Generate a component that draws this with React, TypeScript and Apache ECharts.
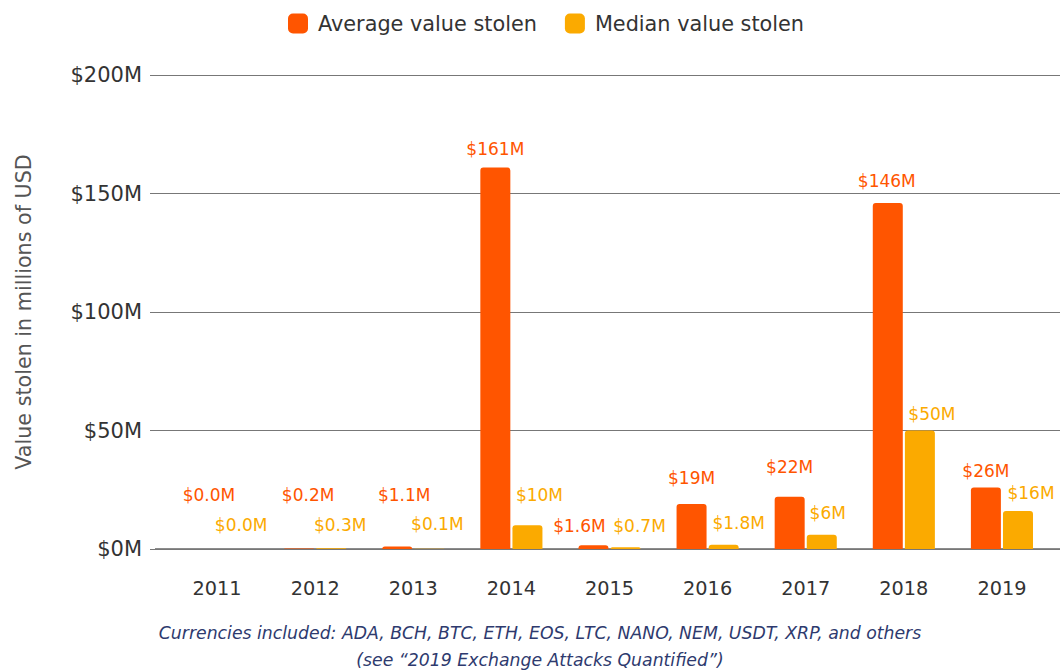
import React, { useEffect, useRef } from "react";
import * as echarts from "echarts";

const years = ["2011", "2012", "2013", "2014", "2015", "2016", "2017", "2018", "2019"];
const averageStolen = [0.0, 0.2, 1.1, 161, 1.6, 19, 22, 146, 26];
const medianStolen = [0.0, 0.3, 0.1, 10, 0.7, 1.8, 6, 50, 16];
const yTicks = [0, 50, 100, 150, 200];

// label nudges (layout only), in pixels [dx, dy]
const avgLabelNudge = [[8, -41], [9, -40], [7, -38], [0, -5], [-14, -6], [0, -12], [0, -16], [-1, -8], [0, -3]];
const medLabelNudge = [[8, -11], [9, -10], [8, -11], [12, -17], [14, -8], [15, -8], [6, -8], [12, -3], [13, -5]];

const ORANGE = "#ff5500";
const AMBER = "#fbaa00";
const FONT = "DejaVu Sans";

const fmt = (v: number) => (v < 2 ? `$${v.toFixed(1)}M` : `$${Math.round(v)}M`);

export default function App() {
  const ref = useRef<HTMLDivElement>(null);
  useEffect(() => {
    if (!ref.current) return;
    const chart = echarts.init(ref.current, null, { renderer: "svg" });
    const labelBase = {
      show: true,
      position: "top" as const,
      distance: 5,
      fontFamily: FONT,
      fontSize: 17,
      formatter: (p: any) => fmt(p.value),
    };
    const footStyle = {
      fontFamily: FONT,
      fontStyle: "italic",
      fontSize: 17.3,
      fill: "#2e3a6e",
      textAlign: "center",
      textVerticalAlign: "middle",
    };
    chart.setOption({
      animation: false,
      textStyle: { fontFamily: FONT },
      legend: {
        top: 8,
        left: 283,
        itemWidth: 20,
        itemHeight: 20,
        itemGap: 28,
        icon: "roundRect",
        textStyle: { fontSize: 20.8, color: "#333", fontFamily: FONT, padding: [0, 0, 0, 5] },
        data: ["Average value stolen", "Median value stolen"],
      },
      grid: [
        { left: 155, right: 0, top: 75, bottom: 121, containLabel: false },
        { left: 168, right: 9, top: 75, bottom: 121, containLabel: false },
      ],
      xAxis: [
        { type: "category", gridIndex: 0, data: years, show: false },
        {
          type: "category",
          gridIndex: 1,
          data: years,
          axisLine: { show: false },
          axisTick: { show: false },
          axisLabel: { color: "#333", fontSize: 19.3, margin: 30, fontFamily: FONT },
        },
      ],
      yAxis: [
        {
          type: "value",
          gridIndex: 0,
          min: 0,
          max: 200,
          interval: 50,
          name: "Value stolen in millions of USD",
          nameLocation: "middle",
          nameGap: 121,
          nameTextStyle: { color: "#555", fontSize: 20.7, fontFamily: FONT },
          axisLine: { show: false },
          axisTick: { show: true, length: 5, lineStyle: { color: "#777" } },
          axisLabel: {
            color: "#333",
            fontSize: 21,
            margin: 13,
            fontFamily: FONT,
            formatter: (v: number) => (yTicks.includes(v) ? `$${v}M` : ""),
          },
          splitLine: {
            lineStyle: { color: "#777", width: 1 },
          },
        },
        {
          type: "value",
          gridIndex: 1,
          min: 0,
          max: 200,
          interval: 50,
          show: false,
          splitLine: { show: false },
        },
      ],
      series: [
        {
          name: "Average value stolen",
          type: "bar",
          xAxisIndex: 1,
          yAxisIndex: 1,
          barWidth: 30,
          barGap: "7%",
          itemStyle: { color: ORANGE, borderRadius: [3, 3, 0, 0] },
          label: { ...labelBase, color: ORANGE },
          data: averageStolen.map((v, i) => ({ value: v, label: { offset: avgLabelNudge[i] } })),
        },
        {
          name: "Median value stolen",
          type: "bar",
          xAxisIndex: 1,
          yAxisIndex: 1,
          barWidth: 30,
          itemStyle: { color: AMBER, borderRadius: [3, 3, 0, 0] },
          label: { ...labelBase, color: AMBER },
          data: medianStolen.map((v, i) => ({ value: v, label: { offset: medLabelNudge[i] } })),
        },
      ],
      graphic: [
        {
          type: "line",
          shape: { x1: 155, y1: 549, x2: 1060, y2: 549 },
          style: { stroke: "#666", lineWidth: 1.5 },
        },
        {
          type: "text",
          x: 540,
          y: 633,
          style: {
            ...footStyle,
            text: "Currencies included: ADA, BCH, BTC, ETH, EOS, LTC, NANO, NEM, USDT, XRP, and others",
          },
        },
        {
          type: "text",
          x: 540,
          y: 660,
          style: {
            ...footStyle,
            text: "(see \u201c2019 Exchange Attacks Quantified\u201d)",
          },
        },
      ],
    });
    return () => chart.dispose();
  }, []);
  return <div ref={ref} style={{ width: 1060, height: 670, position: "absolute", left: 0, top: 0 }} />;
}
